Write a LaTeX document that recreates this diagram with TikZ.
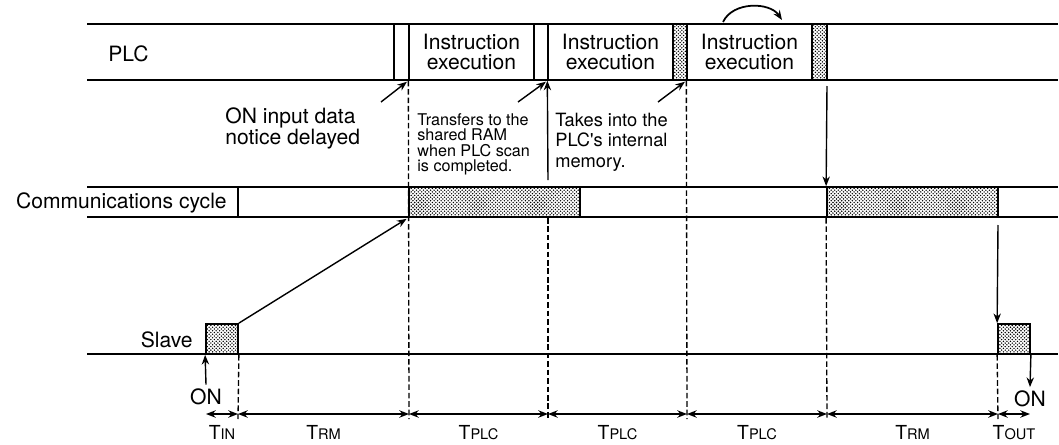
\documentclass[tikz,border=0pt]{standalone}
\usepackage{fontspec}
\setmainfont{TeX Gyre Heros}
\usetikzlibrary{arrows.meta,patterns}

% fine stipple for the busy slots
\pgfdeclarepatternformonly{stipple}{\pgfqpoint{-0.5pt}{-0.5pt}}{\pgfqpoint{1.5pt}{1.5pt}}{\pgfqpoint{2pt}{2pt}}{%
  \pgfpathcircle{\pgfqpoint{0pt}{0pt}}{0.45pt}%
  \pgfpathcircle{\pgfqpoint{1pt}{1pt}}{0.45pt}%
  \pgfusepath{fill}%
}

\newcommand{\tsub}[1]{T{\fontsize{8.3}{9}\selectfont #1}}

\begin{document}
\begin{tikzpicture}[x=0.2mm, y=-0.2mm, >={Stealth[length=5.5pt,width=4.2pt]},
    every node/.style={font=\fontsize{12}{13}\selectfont},
    row/.style={line width=0.75pt},
    slot/.style={draw, line width=0.75pt, inner sep=0pt},
    busy/.style={slot, line width=1pt, pattern=stipple},
    guide/.style={line width=0.75pt, dash pattern=on 3.2pt off 1.6pt},
    flow/.style={->, line width=0.8pt},
    span/.style={<->, line width=0.8pt},
    note/.style={align=left, inner sep=0pt, anchor=north west},
    tlab/.style={anchor=base, yshift=-5mm, inner sep=0pt, font=\fontsize{11}{12}\selectfont}]

    \useasboundingbox (0,0) rectangle (1059,445);

    % PLC row
    \draw[row] (87,24) -- (1058,24);
    \draw[row] (87,80) -- (1058,80);
    \draw[row] (394,24) -- (394,80);
    \node[anchor=base west, inner sep=0pt] (plc) at (108,61) {PLC};
    \node[slot, minimum width=25mm, minimum height=11.2mm, align=center,
          font=\fontsize{12}{11.3}\selectfont] (ie1) at (471.5,52) {Instruction\\execution};
    \node[slot, minimum width=25mm, minimum height=11.2mm, align=center,
          font=\fontsize{12}{11.3}\selectfont] (ie2) at (610.5,52) {Instruction\\execution};
    \node[slot, minimum width=25mm, minimum height=11.2mm, align=center,
          font=\fontsize{12}{11.3}\selectfont] (ie3) at (749.5,52) {Instruction\\execution};
    \node[busy, minimum width=2.8mm, minimum height=11.2mm] (pb1) at (680,52) {};
    \node[busy, minimum width=3mm, minimum height=11.2mm] (pb2) at (819.5,52) {};

    % Communications cycle row
    \draw[row] (87,187) -- (1058,187);
    \draw[row] (87,217) -- (1058,217);
    \draw[row] (238,187) -- (238,217);
    \node[anchor=base east, inner sep=0pt] (comm) at (227,208) {Communications cycle};
    \node[busy, minimum width=34.2mm, minimum height=6mm] (cc1) at (494.5,202) {};
    \node[busy, minimum width=34.2mm, minimum height=6mm] (cc2) at (912.5,202) {};

    % Slave row
    \draw[row] (87,354) -- (1058,354);
    \node[anchor=base east, inner sep=0pt] (slave) at (193,347) {Slave};
    \node[busy, minimum width=6.4mm, minimum height=6mm] (sl1) at (222,339) {};
    \node[busy, minimum width=6.4mm, minimum height=6mm] (sl2) at (1014,339) {};

    % Time marks
    \coordinate (t0) at (206,414);
    \coordinate (t1) at (238,414);
    \coordinate (t2) at (409,414);
    \coordinate (t3) at (548,414);
    \coordinate (t4) at (687,414);
    \coordinate (t5) at (827,414);
    \coordinate (t6) at (998,414);
    \coordinate (t7) at (1030,414);

    % Guides
    \draw[guide] (sl1.south east) -- ([yshift=-1mm]t1);
    \draw[guide] (ie1.south west) -- ([yshift=-1mm]t2);
    \draw[guide] (cc1.south -| t3) -- ([yshift=-1mm]t3);
    \draw[guide] (ie3.south west) -- ([yshift=-1mm]t4);
    \draw[guide] (cc2.south west) -- ([yshift=-1mm]t5);
    \draw[guide] (sl2.south west) -- ([yshift=-1mm]t6);

    % Spans
    \draw[span] (t0) -- (t1) node[tlab, midway] (tin) {\tsub{IN}};
    \draw[span] (t1) -- (t2) node[tlab, midway] (trm1) {\tsub{RM}};
    \draw[span] (t2) -- (t3) node[tlab, midway] (tplc1) {\tsub{PLC}};
    \draw[span] (t3) -- (t4) node[tlab, midway] (tplc2) {\tsub{PLC}};
    \draw[span] (t4) -- (t5) node[tlab, midway] (tplc3) {\tsub{PLC}};
    \draw[span] (t5) -- (t6) node[tlab, midway] (trm2) {\tsub{RM}};
    \draw[span] (t6) -- (t7) node[tlab, midway] (tout) {\tsub{OUT}};

    % Slave on / off
    \node[inner sep=2pt] (on1) at (206,396.5) {ON};
    \node[inner sep=2pt] (on2) at (1030,399) {ON};
    \draw[flow] (on1.north) -- (sl1.south west);
    \draw[flow] (sl2.south east) -- (on2.north);

    % Data flow
    \draw[flow, shorten >=1pt] (sl1.north east) -- (cc1.south west);
    \coordinate (u1) at (548,180);
    \draw[flow] (u1) -- (ie2.south west);
    \coordinate (d1) at (827,86);
    \draw[flow] (d1) -- (cc2.north west);
    \coordinate (d2) at (998,225);
    \draw[flow] (d2) -- (sl2.north west);

    % Pointers from the notes
    \coordinate (n1) at (381,102);
    \coordinate (n2) at (518,102);
    \coordinate (n3) at (658,102);
    \draw[flow, shorten >=1pt] (n1) -- (ie1.south west);
    \draw[flow, shorten >=1pt] (n2) -- (ie2.south west);
    \draw[flow, shorten >=1pt] (n3) -- (ie3.south west);

    % Next scan
    \coordinate (ca) at (723,22);
    \coordinate (cb) at (782,20);
    \draw[flow, line width=1pt] (ca) .. controls (733,1) and (770,2) .. (cb);

    % Notes
    \node[note, font=\fontsize{12}{11}\selectfont] (delay) at (225,107) {ON input data\\notice delayed};
    \node[note, font=\fontsize{9.2}{8.8}\selectfont] (xfer) at (417,113)
        {Transfers to the\\shared RAM\\when PLC scan\\is completed.};
    \node[note, font=\fontsize{10.4}{11.5}\selectfont] (take) at (555,113)
        {Takes into the\\PLC\textquotesingle s internal\\memory.};
\end{tikzpicture}
\end{document}
